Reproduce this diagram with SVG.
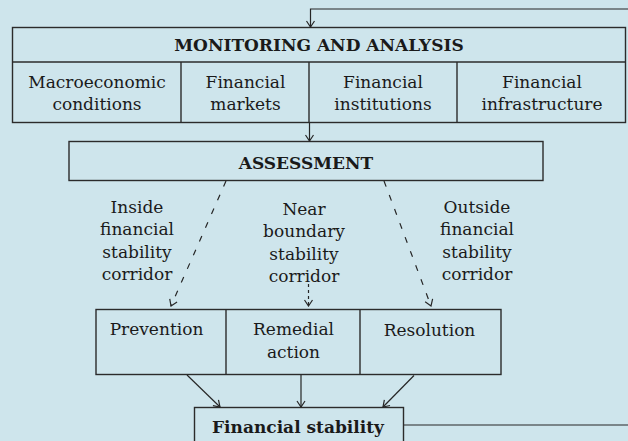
<svg xmlns="http://www.w3.org/2000/svg" width="628" height="441" viewBox="0 0 628 441">
  <defs>
    <marker id="arrow" markerUnits="userSpaceOnUse" markerWidth="8" markerHeight="10" viewBox="0 0 8 10" refX="7" refY="5" orient="auto">
      <path d="M1,1 L7,5 L1,9" fill="none" stroke="#262626" stroke-width="1.2"/>
    </marker>
  </defs>
  <style>
    .box { fill: none; stroke: #2b2b2b; stroke-width: 1.4; }
    .txt { font-family: "DejaVu Serif", "Liberation Serif", serif; font-size: 17px; fill: #1a1a1a; text-anchor: middle; }
    .bold { font-weight: bold; }
    .conn { fill: none; stroke: #262626; stroke-width: 1.2; }
    .dash { stroke-dasharray: 6 9; }
    .dash-short { stroke-dasharray: 3 3; }
  </style>

  <rect x="0" y="0" width="628" height="441" fill="#cee5ec"/>

  <!-- Monitoring and analysis block -->
  <g id="monitoring">
    <rect class="box" x="12.5" y="27.5" width="613" height="95"/>
    <line class="box" x1="12.5" y1="62" x2="625.5" y2="62"/>
    <line class="box" x1="181" y1="62" x2="181" y2="122.5"/>
    <line class="box" x1="309" y1="62" x2="309" y2="122.5"/>
    <line class="box" x1="457" y1="62" x2="457" y2="122.5"/>
    <text class="txt bold" x="319" y="51">MONITORING AND ANALYSIS</text>
  </g>
  <g id="macro">
    <text class="txt" x="97" y="87.5">Macroeconomic</text>
    <text class="txt" x="97" y="110">conditions</text>
  </g>
  <g id="markets">
    <text class="txt" x="245.5" y="87.5">Financial</text>
    <text class="txt" x="245.5" y="110">markets</text>
  </g>
  <g id="institutions">
    <text class="txt" x="383" y="87.5">Financial</text>
    <text class="txt" x="383" y="110">institutions</text>
  </g>
  <g id="infrastructure">
    <text class="txt" x="542" y="87.5">Financial</text>
    <text class="txt" x="542" y="110">infrastructure</text>
  </g>

  <!-- Assessment -->
  <g id="assessment">
    <rect class="box" x="69" y="141.5" width="474" height="39"/>
    <text class="txt bold" x="306" y="169">ASSESSMENT</text>
  </g>

  <!-- Corridor labels -->
  <g id="label-inside">
    <text class="txt" x="137" y="212.5">Inside</text>
    <text class="txt" x="137" y="235">financial</text>
    <text class="txt" x="137" y="257.5">stability</text>
    <text class="txt" x="137" y="280">corridor</text>
  </g>
  <g id="label-near">
    <text class="txt" x="304" y="214.5">Near</text>
    <text class="txt" x="304" y="237">boundary</text>
    <text class="txt" x="304" y="259.5">stability</text>
    <text class="txt" x="304" y="282">corridor</text>
  </g>
  <g id="label-outside">
    <text class="txt" x="477" y="212.5">Outside</text>
    <text class="txt" x="477" y="235">financial</text>
    <text class="txt" x="477" y="257.5">stability</text>
    <text class="txt" x="477" y="280">corridor</text>
  </g>

  <!-- Response row -->
  <g id="responses">
    <rect class="box" x="96" y="309.5" width="405" height="65"/>
    <line class="box" x1="226" y1="309.5" x2="226" y2="374.5"/>
    <line class="box" x1="360" y1="309.5" x2="360" y2="374.5"/>
  </g>
  <g id="prevention">
    <text class="txt" x="156.5" y="335">Prevention</text>
  </g>
  <g id="remedial">
    <text class="txt" x="293.5" y="335">Remedial</text>
    <text class="txt" x="293.5" y="357.5">action</text>
  </g>
  <g id="resolution">
    <text class="txt" x="429.5" y="335.5">Resolution</text>
  </g>

  <!-- Financial stability -->
  <g id="stability">
    <rect class="box" x="194.5" y="407.5" width="209" height="50"/>
    <text class="txt bold" x="298" y="432.5">Financial  stability</text>
  </g>

  <!-- Connectors -->
  <g id="connectors">
    <line class="conn" x1="309.5" y1="123" x2="309.5" y2="141" marker-end="url(#arrow)"/>
    <path class="conn" d="M404,425 H640 V9 H310.5 V27" marker-end="url(#arrow)"/>
    <line class="conn dash" x1="226" y1="181" x2="171" y2="306" marker-end="url(#arrow)"/>
    <line class="conn dash-short" x1="308.5" y1="284" x2="308.5" y2="306" marker-end="url(#arrow)"/>
    <line class="conn dash" x1="384" y1="181" x2="431" y2="306" marker-end="url(#arrow)"/>
    <line class="conn" x1="187" y1="375" x2="220" y2="407" marker-end="url(#arrow)"/>
    <line class="conn" x1="301" y1="375" x2="301" y2="407" marker-end="url(#arrow)"/>
    <line class="conn" x1="414" y1="375.5" x2="383" y2="407" marker-end="url(#arrow)"/>
  </g>
</svg>
